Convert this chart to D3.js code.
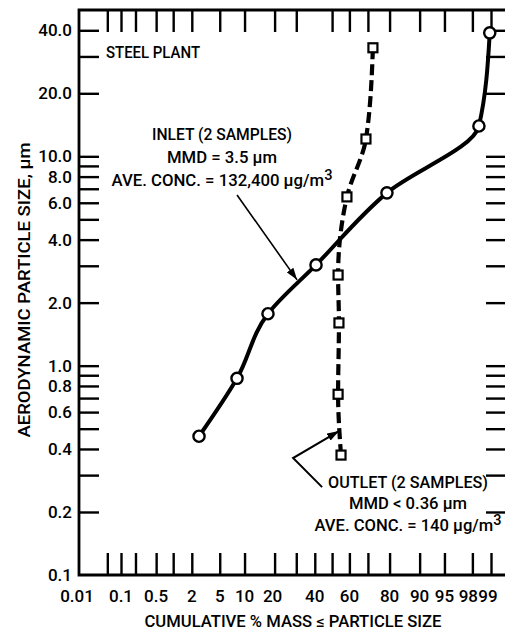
<!DOCTYPE html>
<html>
<head>
<meta charset="utf-8">
<script src="https://cdn.jsdelivr.net/npm/d3@7"></script>
<style>
  body { margin: 0; background: #fff; }
  svg { display: block; background: #fff; }
  text {
    font-family: Roboto, 'DejaVu Sans', sans-serif;
    font-weight: 500;
    fill: #000;
  }
</style>
</head>
<body>
<svg id="chart"></svg>
<script>
// inlet (circles, solid) and outlet (squares, dashed): cumulative % mass vs size in um
const inletPct  = [2.57, 8.2, 17.4, 40.7, 78.9, 98.42, 98.95];
const inletSize = [0.46, 0.87, 1.77, 3.03, 6.69, 13.96, 38.9];

const outletPct  = [55.2, 53.5, 54.0, 53.5, 58.6, 69.0, 72.5];
const outletSize = [0.374, 0.73, 1.6, 2.71, 6.4, 12.1, 33];

const xLabels = ["0.01", "0.1", "0.5", "2", "5", "10", "20", "40", "60", "80", "90", "95", "98", "99"];
const xTicksBottom = [0.05, 0.1, 0.2, 0.5, 1, 2, 5, 10, 20, 30, 40, 50, 60, 70, 80, 90, 95, 98, 99];
const xTicksTop = [0.05, 0.1, 0.2, 0.5, 1, 2, 5, 10, 20, 30, 50, 60, 70, 80, 90, 95, 98, 99];

const yLabels = ["40.0", "20.0", "10.0", "8.0", "6.0", "4.0", "2.0", "1.0", "0.8", "0.6", "0.4", "0.2", "0.1"];
const yTicks = [40, 30, 20, 10, 9, 8, 7, 6, 5, 4, 3, 2, 1, 0.9, 0.8, 0.7, 0.6, 0.5, 0.4, 0.3, 0.2];

// arrows pointing at the curves, in the same units (% , um)
const inletArrow = [[8.2, 6.54], [30.4, 2.57]];
const outletArrow = [[44.2, 0.263], [28.4, 0.362], [54.0, 0.487]];

const width = 505;
const height = 632;
const frame = { top: 10, bottom: 575, left: 79, right: 506 };

// inverse normal CDF (Acklam), for the probability axis
function probit(p) {
  const a = [-39.69683028665376, 220.9460984245205, -275.9285104469687, 138.3577518672690, -30.66479806614716, 2.506628277459239];
  const b = [-54.47609879822406, 161.5858368580409, -155.6989798598866, 66.80131188771972, -13.28068155288572];
  const c = [-0.007784894002430293, -0.3223964580411365, -2.400758277161838, -2.549732539343734, 4.374664141464968, 2.938163982698783];
  const d = [0.007784695709041462, 0.3224671290700398, 2.445134137142996, 3.754408661907416];
  const pl = 0.02425;
  if (p < pl) {
    const q = Math.sqrt(-2 * Math.log(p));
    return (((((c[0]*q+c[1])*q+c[2])*q+c[3])*q+c[4])*q+c[5]) / ((((d[0]*q+d[1])*q+d[2])*q+d[3])*q+1);
  }
  if (p > 1 - pl) {
    const q = Math.sqrt(-2 * Math.log(1 - p));
    return -(((((c[0]*q+c[1])*q+c[2])*q+c[3])*q+c[4])*q+c[5]) / ((((d[0]*q+d[1])*q+d[2])*q+d[3])*q+1);
  }
  const q = p - 0.5, r = q * q;
  return (((((a[0]*r+a[1])*r+a[2])*r+a[3])*r+a[4])*r+a[5])*q / (((((b[0]*r+b[1])*r+b[2])*r+b[3])*r+b[4])*r+1);
}

const z = d3.scaleLinear()
  .domain([probit(0.001), probit(0.99)])
  .range([121, 491]);
const px = pct => z(probit(pct / 100));

const y = d3.scaleLog()
  .domain([0.1, 50])
  .range([frame.bottom, frame.top]);

const svg = d3.select('#chart')
  .attr('width', width)
  .attr('height', height);

const defs = svg.append('defs');
defs.append('marker')
  .attr('id', 'head')
  .attr('markerUnits', 'userSpaceOnUse')
  .attr('viewBox', '0 0 12 8')
  .attr('refX', 12).attr('refY', 4)
  .attr('markerWidth', 12).attr('markerHeight', 8)
  .attr('orient', 'auto')
  .append('path')
  .attr('d', 'M0,0 L12,4 L0,8 Z')
  .attr('fill', '#000');

// ticks
const tickStyle = sel => {
  sel.select('.domain').remove();
  sel.selectAll('.tick line').attr('stroke', '#000').attr('stroke-width', 2.4);
};

svg.append('g')
  .attr('transform', `translate(${frame.left},0)`)
  .call(d3.axisRight(y).tickValues(yTicks).tickSize(20).tickFormat(''))
  .call(tickStyle);

svg.append('g')
  .attr('transform', `translate(${frame.right},0)`)
  .call(d3.axisLeft(y).tickValues(yTicks).tickSize(20).tickFormat(''))
  .call(tickStyle);

svg.append('g')
  .attr('transform', `translate(0,${frame.bottom})`)
  .call(d3.axisTop(z).tickValues(xTicksBottom.map(p => probit(p / 100))).tickSize(22).tickFormat(''))
  .call(tickStyle);

svg.append('g')
  .attr('transform', `translate(0,${frame.top})`)
  .call(d3.axisBottom(z).tickValues(xTicksTop.map(p => probit(p / 100))).tickSize(22).tickFormat(''))
  .call(tickStyle);

// frame
svg.append('path')
  .attr('d', `M${frame.right},${frame.top} H${frame.left} V${frame.bottom} H${frame.right}`)
  .attr('fill', 'none')
  .attr('stroke', '#000')
  .attr('stroke-width', 2.8);

// tick labels
svg.append('g')
  .selectAll('text')
  .data(yLabels)
  .join('text')
  .attr('x', 72)
  .attr('y', d => y(+d))
  .attr('dy', '0.36em')
  .attr('text-anchor', 'end')
  .attr('font-size', 17)
  .text(d => d);

const labelShift = { "98": -4, "99": -3, "20": -2 };
svg.append('g')
  .selectAll('text')
  .data(xLabels)
  .join('text')
  .attr('x', d => (+d === 0.01 ? 77 : px(+d)) + (labelShift[d] || 0))
  .attr('y', 602)
  .attr('text-anchor', 'middle')
  .attr('font-size', 17)
  .text(d => d);

// axis titles
svg.append('text')
  .attr('transform', 'translate(30,290) rotate(-90)')
  .attr('text-anchor', 'middle')
  .attr('font-size', 16)
  .attr('textLength', 295)
  .attr('lengthAdjust', 'spacingAndGlyphs')
  .text('AERODYNAMIC PARTICLE SIZE, \u03bcm');

svg.append('text')
  .attr('x', 293)
  .attr('y', 627)
  .attr('text-anchor', 'middle')
  .attr('font-size', 16)
  .attr('textLength', 297)
  .attr('lengthAdjust', 'spacingAndGlyphs')
  .text('CUMULATIVE % MASS \u2264 PARTICLE SIZE');

// curves
const inlet = inletPct.map((p, i) => ({ p, s: inletSize[i] }));
const outlet = outletPct.map((p, i) => ({ p, s: outletSize[i] }));

const line = d3.line()
  .x(d => px(d.p))
  .y(d => y(d.s))
  .curve(d3.curveMonotoneY);

svg.append('path')
  .datum(outlet)
  .attr('d', line)
  .attr('fill', 'none')
  .attr('stroke', '#000')
  .attr('stroke-width', 4.2)
  .attr('stroke-dasharray', '11,5');

svg.append('path')
  .datum(inlet)
  .attr('d', line)
  .attr('fill', 'none')
  .attr('stroke', '#000')
  .attr('stroke-width', 4);

svg.append('g')
  .selectAll('rect')
  .data(outlet)
  .join('rect')
  .attr('x', d => px(d.p) - 4.5)
  .attr('y', d => y(d.s) - 4.5)
  .attr('width', 9)
  .attr('height', 9)
  .attr('fill', '#fff')
  .attr('stroke', '#000')
  .attr('stroke-width', 2.2);

svg.append('g')
  .selectAll('circle')
  .data(inlet)
  .join('circle')
  .attr('cx', d => px(d.p))
  .attr('cy', d => y(d.s))
  .attr('r', 5.6)
  .attr('fill', '#fff')
  .attr('stroke', '#000')
  .attr('stroke-width', 2.4);

// annotations
const arrowLine = d3.line().x(d => px(d[0])).y(d => y(d[1]));

svg.append('path')
  .attr('d', arrowLine(inletArrow))
  .attr('fill', 'none')
  .attr('stroke', '#000')
  .attr('stroke-width', 1.6)
  .attr('marker-end', 'url(#head)');

svg.append('path')
  .attr('d', arrowLine(outletArrow))
  .attr('fill', 'none')
  .attr('stroke', '#000')
  .attr('stroke-width', 2)
  .attr('marker-end', 'url(#head)');

svg.append('text')
  .attr('x', 106)
  .attr('y', 58)
  .attr('font-size', 16)
  .attr('textLength', 94)
  .attr('lengthAdjust', 'spacingAndGlyphs')
  .text('STEEL PLANT');

function note(cx, lines) {
  lines.forEach(([str, base, len, sup]) => {
    const t = svg.append('text')
      .attr('x', cx)
      .attr('y', base)
      .attr('text-anchor', 'middle')
      .attr('font-size', 16)
      .attr('textLength', len)
      .attr('lengthAdjust', 'spacingAndGlyphs');
    t.append('tspan').text(str);
    if (sup) t.append('tspan').attr('dy', -6).attr('font-size', 14).text(sup);
  });
}

note(222, [
  ['INLET (2 SAMPLES)', 140, 140],
  ['MMD = 3.5 \u03bcm', 163, 110],
  ['AVE. CONC. = 132,400 \u03bcg/m', 186, 221, '3']
]);

note(408, [
  ['OUTLET (2 SAMPLES)', 488, 160],
  ['MMD < 0.36 \u03bcm', 509, 118],
  ['AVE. CONC. = 140 \u03bcg/m', 531, 187, '3']
]);
</script>
</body>
</html>
